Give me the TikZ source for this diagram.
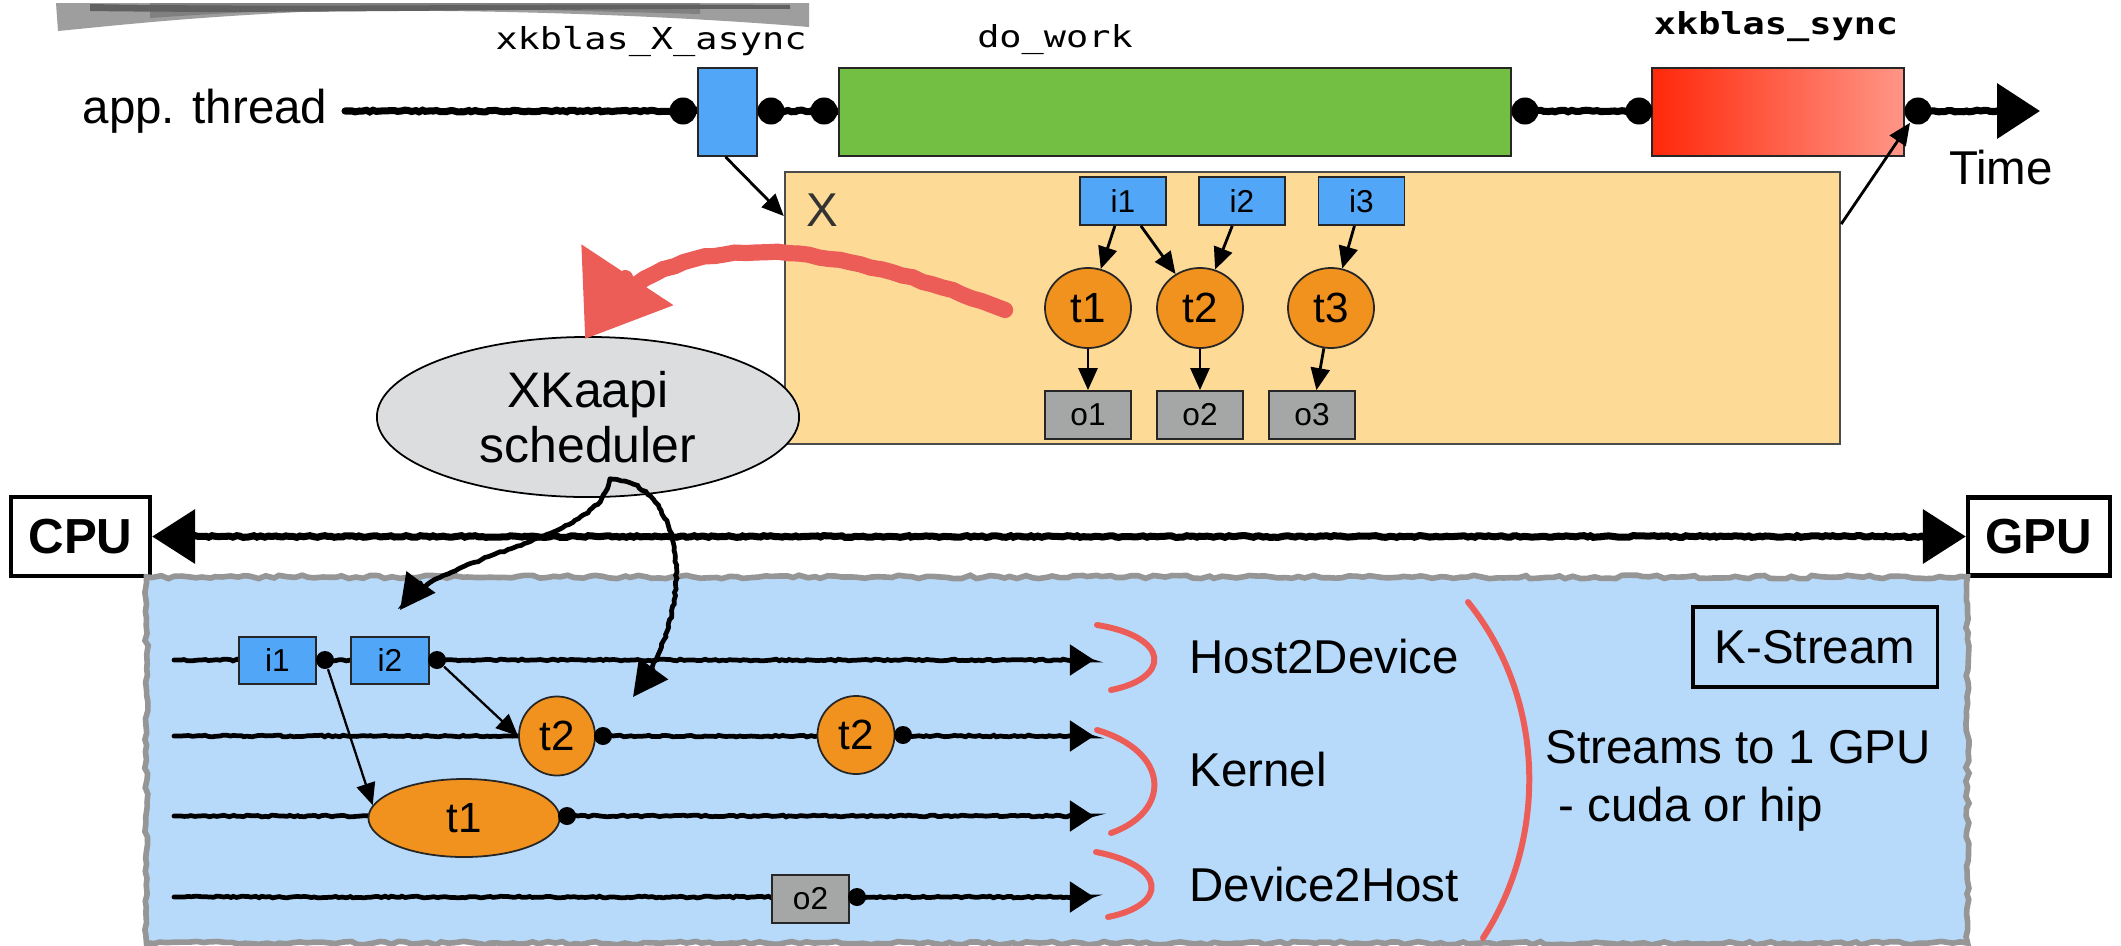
\documentclass[tikz,border=0pt]{standalone}
\usepackage{graphicx}
\usepackage{fontspec}
\setmainfont{Liberation Sans}
\newfontfamily\monofont{DejaVu Sans Mono}
\usetikzlibrary{arrows.meta,shapes.geometric,decorations.pathmorphing,calc}

\definecolor{boxblue}{RGB}{82,166,248}
\definecolor{workgreen}{RGB}{114,191,68}
\definecolor{graphbg}{RGB}{253,219,150}
\definecolor{taskorange}{RGB}{241,145,30}
\definecolor{outgray}{RGB}{165,167,166}
\definecolor{schedgray}{RGB}{220,221,223}
\definecolor{streambg}{RGB}{184,218,250}
\definecolor{streamborder}{RGB}{150,150,150}
\definecolor{brushred}{RGB}{236,93,88}
\definecolor{syncred}{RGB}{255,40,10}
\definecolor{syncpink}{RGB}{255,150,135}

\newcommand{\bigtxt}{\fontsize{13.5}{15}\selectfont}
\newcommand{\smalltxt}{\fontsize{9}{10}\selectfont}
\newcommand{\tasktxt}{\fontsize{12}{13}\selectfont}
\newcommand{\monotxt}{\monofont\fontsize{8.6}{10}\selectfont}
\newcommand{\monolbl}[1]{\scalebox{1.22}[1]{#1}}

\begin{document}
\begin{tikzpicture}[x=0.01cm, y=-0.01cm,
  boxed/.style={draw=black!85, line width=0.5pt, inner sep=0pt},
  inbox/.style={boxed, fill=boxblue, minimum width=0.86cm, minimum height=0.48cm, font=\smalltxt},
  outbox/.style={boxed, fill=outgray, minimum width=0.86cm, minimum height=0.48cm, font=\smalltxt},
  task/.style={ellipse, boxed, fill=taskorange, font=\tasktxt},
  bigdot/.style={circle, fill=black, inner sep=0pt, minimum size=0.27cm},
  smalldot/.style={circle, fill=black, inner sep=0pt, minimum size=0.18cm},
  sketch/.style={line width=2pt, line cap=round, decorate,
    decoration={random steps, segment length=1pt, amplitude=0.25pt, pre length=2pt, post length=2pt}},
  thin sketch/.style={sketch, line width=1.35pt},
  arr/.style={line width=0.8pt, -{Triangle[length=0.22cm,width=0.19cm]}},
  brush/.style={brushred, line width=4.6pt, line cap=round, decorate,
    decoration={random steps, segment length=3pt, amplitude=0.25pt, pre length=4pt, post length=6pt}},
  redarc/.style={brushred, line width=1.7pt, line cap=round},
  txt/.style={inner sep=0pt, font=\bigtxt},
  mono/.style={inner sep=0pt, font=\monotxt},
]
\useasboundingbox (0,0) rectangle (2121,945);
\fill[white] (0,0) rectangle (2121,945);

% grey brush stroke along the top edge
\fill[black!38] (56,3) -- (809,3) -- (809,27) .. controls (650,14) and (450,8) .. (300,12)
  .. controls (180,18) and (110,26) .. (58,31) -- cycle;
\fill[black!50] (150,3) -- (700,3) -- (700,14) .. controls (550,10) and (400,6) .. (300,10)
  .. controls (220,13) and (180,16) .. (150,18) -- cycle;
\fill[black!62] (90,4) .. controls (300,8) and (550,3) .. (790,5) -- (790,9)
  .. controls (550,8) and (300,14) .. (90,11) -- cycle;

% ---------------- application thread ----------------
\node[txt, anchor=east] (app) at (328,111) {app. thread};
\coordinate (tstart) at (345,111);
\coordinate (tend) at (2040,111);
\draw[sketch, -{Triangle[length=0.43cm,width=0.54cm]}] (tstart) -- (tend);

\node[boxed, fill=boxblue, minimum width=0.59cm, minimum height=0.88cm] (async) at (727.5,112) {};
\node[boxed, fill=workgreen, minimum width=6.72cm, minimum height=0.88cm] (work) at (1175,112) {};
\node[boxed, left color=syncred, right color=syncpink, minimum width=2.52cm, minimum height=0.88cm] (sync) at (1778,112) {};

\node[bigdot] (d1) at (683,111) {};
\node[bigdot] (d2) at (771,111) {};
\node[bigdot] (d3) at (824,111) {};
\node[bigdot] (d4) at (1525,111) {};
\node[bigdot] (d5) at (1639,111) {};
\node[bigdot] (d6) at (1918,111) {};

\node[mono] (lasync) at (651,41) {\monolbl{xkblas\_X\_async}};
\node[mono] (lwork) at (1055,40) {\monolbl{do\_work}};
\node[mono] (lsync) at (1776,27) {\monolbl{\bfseries xkblas\_sync}};
\node[txt] (time) at (2001,168) {Time};

% ---------------- task graph X ----------------
\node[draw=black!70, line width=0.5pt, fill=graphbg, minimum width=10.55cm, minimum height=2.72cm] (xbox) at (1312.5,308) {};
\node[txt, text=black!80] (xlbl) at (822,210) {X};

\node[inbox] (i1) at (1123,201) {i1};
\node[inbox] (i2) at (1242,201) {i2};
\node[inbox] (i3) at (1361.5,201) {i3};
\node[task, minimum width=0.86cm, minimum height=0.80cm] (t1) at (1088,308) {t1};
\node[task, minimum width=0.86cm, minimum height=0.80cm] (t2) at (1200,308) {t2};
\node[task, minimum width=0.86cm, minimum height=0.80cm] (t3) at (1331,308) {t3};
\node[outbox] (o1) at (1088,415) {o1};
\node[outbox] (o2) at (1200,415) {o2};
\node[outbox] (o3) at (1312,415) {o3};

\draw[arr] (i1) -- (t1);
\draw[arr] (i1) -- (t2);
\draw[arr] (i2) -- (t2);
\draw[arr] (i3) -- (t3);
\draw[arr] (t1) -- (o1);
\draw[arr] (t2) -- (o2);
\draw[arr] (t3) -- (o3);

\draw[arr] ($(async.south)+(-2,0)$) -- ($(xbox.north west)+(0,45)$);
\draw[arr] ($(xbox.north east)+(0,53)$) -- (d6);

% ---------------- scheduler ----------------
\node[ellipse, draw, line width=0.5pt, fill=schedgray, minimum width=4.22cm, minimum height=1.6cm,
      inner sep=0pt, align=center, font=\fontsize{14.2}{15.8}\selectfont] (sched) at (588,417) {XKaapi\\scheduler};

\draw[brush, -{Triangle[length=0.77cm,width=1.06cm]}] ($(t1.west)+(-39,2)$)
  .. controls (880,262) and (672,196) .. ($(sched.north)+(-3,3)$);

% ---------------- CPU / GPU ----------------
\node[draw, line width=1.2pt, inner sep=0pt, minimum width=1.39cm, minimum height=0.79cm,
      font=\fontsize{14}{16}\selectfont\bfseries] (cpu) at (80.5,536.5) {CPU};
\node[draw, line width=1.2pt, inner sep=0pt, minimum width=1.42cm, minimum height=0.78cm,
      font=\fontsize{14}{16}\selectfont\bfseries] (gpu) at (2039,536.5) {GPU};
\draw[sketch, {Triangle[length=0.43cm,width=0.53cm]}-{Triangle[length=0.43cm,width=0.53cm]}] (cpu.east) -- (gpu.west);

% ---------------- K-Stream panel ----------------
\node[draw=streamborder, fill=streambg, line width=1.6pt, minimum width=18.2cm, minimum height=3.66cm,
      decorate, decoration={random steps, segment length=2pt, amplitude=0.5pt}] (kpanel) at (1057,760) {};

\coordinate (s1a) at (174,660);  \coordinate (s1b) at (1094,660);
\coordinate (s2a) at (174,736);  \coordinate (s2b) at (1094,736);
\coordinate (s3a) at (174,816);  \coordinate (s3b) at (1094,816);
\coordinate (s4a) at (174,897);  \coordinate (s4b) at (1094,897);
\foreach \s in {1,2,3,4}
  \draw[thin sketch, -{Triangle[length=0.24cm,width=0.30cm]}] (s\s a) -- (s\s b);

\node[boxed, fill=boxblue, minimum width=0.77cm, minimum height=0.47cm, font=\smalltxt] (li1) at (277.5,660.5) {i1};
\node[boxed, fill=boxblue, minimum width=0.78cm, minimum height=0.47cm, font=\smalltxt] (li2) at (390,660.5) {i2};
\node[smalldot] (ld1) at (325,660) {};
\node[smalldot] (ld2) at (437,660) {};

\node[task, minimum width=0.76cm, minimum height=0.79cm] (lt2a) at (557,736) {t2};
\node[smalldot] (ld3) at (603,736) {};
\node[task, minimum width=0.77cm, minimum height=0.78cm] (lt2b) at (856,735) {t2};
\node[smalldot] (ld4) at (903,735) {};
\node[task, minimum width=1.91cm, minimum height=0.78cm] (lt1) at (464,818) {t1};
\node[smalldot] (ld5) at (567,816) {};
\node[boxed, fill=outgray, minimum width=0.77cm, minimum height=0.48cm, font=\smalltxt] (lo2) at (810.5,899) {o2};
\node[smalldot] (ld6) at (857,897) {};

\draw[arr, line width=0.65pt] (ld1) -- (lt1.172);
\draw[arr, line width=0.65pt] (ld2) -- (lt2a.west);

% scheduler dispatching tasks to streams
\coordinate (sfrom) at ($(sched.south)+(22,-19)$);
\coordinate (sto1) at (400,610);
\coordinate (sto2) at (633,697);
\draw[thin sketch, -{Triangle[length=0.35cm,width=0.35cm]}] (sfrom) .. controls (600,545) and (440,550) .. (sto1);
\draw[thin sketch, -{Triangle[length=0.35cm,width=0.35cm]}] (sfrom) .. controls (680,480) and (705,600) .. (sto2);

% stream groupings
\draw[redarc] (1097,625) .. controls (1171,637) and (1171,678) .. (1111,690);
\draw[redarc] (1097,730) .. controls (1171,752) and (1171,812) .. (1111,833);
\draw[redarc] (1096,852) .. controls (1168,866) and (1168,905) .. (1108,917);
\draw[redarc] (1468,602) .. controls (1547,700) and (1547,840) .. (1483,938);

\node[txt, anchor=west] (h2d) at (1189,657) {Host2Device};
\node[txt, anchor=west] (kern) at (1189,770) {Kernel};
\node[txt, anchor=west] (d2h) at (1189,885) {Device2Host};
\node[txt, anchor=west, align=left, font=\fontsize{13.5}{16.5}\selectfont] (streams) at (1545,781)
  {Streams to 1 GPU\\\hspace*{0.13cm}- cuda or hip};
\node[draw, line width=0.9pt, inner sep=0pt, minimum width=2.44cm, minimum height=0.8cm, font=\bigtxt] (kstream) at (1815,647) {K-Stream};

\end{tikzpicture}
\end{document}
